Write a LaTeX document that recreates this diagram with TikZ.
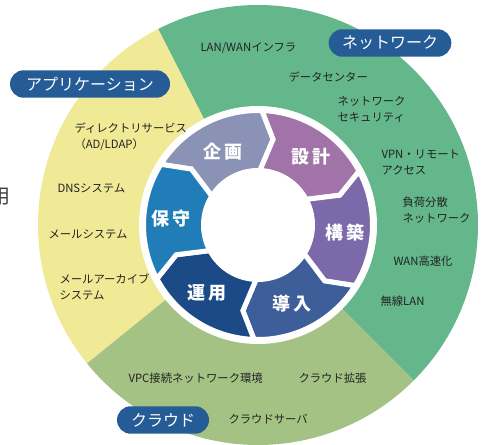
\documentclass[tikz,border=0pt]{standalone}
\usepackage{fontspec}
\setmainfont{Noto Sans CJK JP}
\usepackage{tikz}
\tikzset{every picture/.style={line width=0.75pt}}

\begin{document}
\begin{tikzpicture}[x=0.75pt,y=0.75pt,yscale=-1,xscale=1,
	item/.style={anchor=west,align=left,inner sep=0pt,text={rgb,255:red,35;green,35;blue,35},font=\fontsize{8.5}{12}\selectfont},
	pill/.style={fill={rgb,255:red,37;green,92;blue,149},text=white,rounded corners=10.3pt,minimum height=20.6pt,inner sep=0pt,font=\fontsize{12}{14}\selectfont},
	stage/.style={text=white,inner sep=0pt,font=\bfseries\fontsize{13.5}{16}\selectfont},
	segment/.style={draw=white,line width=3.75pt,line join=miter}]
	%set diagram to 482 x 445
	\useasboundingbox (0,0) rectangle (482,445);
	\clip (0,0) rectangle (482,445);
	
	\begin{scope}[shift={(258,225)},yscale=-1]
		%Shape: Sector [id:network] 
		\fill [color={rgb, 255:red, 99; green, 183; blue, 138 }] (0,0) -- (-45:220) arc[start angle=-45, end angle=117, radius=220] -- cycle ;
		%Shape: Sector [id:application] 
		\fill [color={rgb, 255:red, 240; green, 233; blue, 149 }] (0,0) -- (117:220) arc[start angle=117, end angle=219, radius=220] -- cycle ;
		%Shape: Sector [id:cloud] 
		\fill [color={rgb, 255:red, 165; green, 194; blue, 133 }] (0,0) -- (219:220) arc[start angle=219, end angle=315, radius=220] -- cycle ;
		%Shape: Circle [id:gap] 
		\fill [white] (0,0) circle (119) ;
		
		%Shape: Chevron [id:kikaku] 
		\draw [segment][fill={rgb, 255:red, 138; green, 146; blue, 181 }] (148:114.5) arc[start angle=148, end angle=88, radius=114.5] -- (80:87) -- (88:54.5) arc[start angle=88, end angle=148, radius=54.5] -- (140:87) -- cycle ;
		%Shape: Chevron [id:sekkei] 
		\draw [segment][fill={rgb, 255:red, 161; green, 115; blue, 169 }] (88:114.5) arc[start angle=88, end angle=28, radius=114.5] -- (20:87) -- (28:54.5) arc[start angle=28, end angle=88, radius=54.5] -- (80:87) -- cycle ;
		%Shape: Chevron [id:kouchiku] 
		\draw [segment][fill={rgb, 255:red, 123; green, 105; blue, 169 }] (28:114.5) arc[start angle=28, end angle=-32, radius=114.5] -- (-40:87) -- (-32:54.5) arc[start angle=-32, end angle=28, radius=54.5] -- (20:87) -- cycle ;
		%Shape: Chevron [id:dounyuu] 
		\draw [segment][fill={rgb, 255:red, 61; green, 94; blue, 153 }] (-32:114.5) arc[start angle=-32, end angle=-92, radius=114.5] -- (-100:87) -- (-92:54.5) arc[start angle=-92, end angle=-32, radius=54.5] -- (-40:87) -- cycle ;
		%Shape: Chevron [id:unyou] 
		\draw [segment][fill={rgb, 255:red, 28; green, 74; blue, 135 }] (-92:114.5) arc[start angle=-92, end angle=-152, radius=114.5] -- (-160:87) -- (-152:54.5) arc[start angle=-152, end angle=-92, radius=54.5] -- (-100:87) -- cycle ;
		%Shape: Chevron [id:hoshu] 
		\draw [segment][fill={rgb, 255:red, 33; green, 125; blue, 184 }] (-152:114.5) arc[start angle=-152, end angle=-212, radius=114.5] -- (-220:87) -- (-212:54.5) arc[start angle=-212, end angle=-152, radius=54.5] -- (-160:87) -- cycle ;
	\end{scope}
	
	% Stage labels
	\node [stage] (lblKikaku) at (223,152) {企\hspace{3pt}画};
	\node [stage] (lblSekkei) at (311,157) {設\hspace{3pt}計};
	\node [stage] (lblKouchiku) at (345,233) {構\hspace{3pt}築};
	\node [stage] (lblDounyuu) at (292,304) {導\hspace{3pt}入};
	\node [stage] (lblUnyou) at (207,293) {運\hspace{3pt}用};
	\node [stage] (lblHoshu) at (171,219) {保\hspace{3pt}守};
	
	% Category pills
	\node [pill,minimum width=120pt] (pillApp) at (90,84) {アプリケーション};
	\node [pill,minimum width=92pt] (pillNet) at (390,43) {ネットワーク};
	\node [pill,minimum width=69pt] (pillCloud) at (163,420) {クラウド};
	
	% Network items
	\node [item] (netInfra) at (200,48) {LAN/WANインフラ};
	\node [item] (netDc) at (288,77) {データセンター};
	\node [item] (netSec) at (337,109) {ネットワーク\\セキュリティ};
	\node [item] (netVpn) at (381,162) {VPN・リモート\\アクセス};
	\node [item] (netLb) at (402,210) {負荷分散\\ネットワーク};
	\node [item] (netWan) at (393,261) {WAN高速化};
	\node [item] (netWlan) at (380,301) {無線LAN};
	
	% Application items
	\node [item] (appDir) at (74,137) {ディレクトリサービス\\（AD/LDAP）};
	\node [item] (appDns) at (57,188) {DNSシステム};
	\node [item] (appMail) at (48,234) {メールシステム};
	\node [item] (appArc) at (59,287) {メールアーカイブ\\システム};
	
	% Cloud items
	\node [item] (cldVpc) at (128,378) {VPC接続ネットワーク環境};
	\node [item] (cldExt) at (298,378) {クラウド拡張};
	\node [item] (cldSrv) at (228,419) {クラウドサーバ};
	
	%Text Node [id:cut] 
	\node [text={rgb, 255:red, 60; green, 60; blue, 60 },inner sep=0pt,font=\fontsize{15}{17}\selectfont] (cutText) at (1,197) {用};
	
\end{tikzpicture}
\end{document}
